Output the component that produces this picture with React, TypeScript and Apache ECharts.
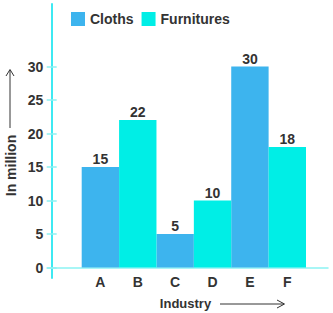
import React, { useEffect, useRef } from "react";
import * as echarts from "echarts";

const categories = ["A", "B", "C", "D", "E", "F"];
const clothsValues = [15, null, 5, null, 30, null];
const furnituresValues = [null, 22, null, 10, null, 18];
const yTicks = { min: 0, max: 30, interval: 5 };
const seriesNames = ["Cloths", "Furnitures"];

const FONT = "'Liberation Sans', Arial, Helvetica, sans-serif";
const TEXT = "#333333";

export default function App() {
  const ref = useRef<HTMLDivElement>(null);
  useEffect(() => {
    if (!ref.current) return;
    const chart = echarts.init(ref.current, null, { renderer: "svg" });
    const labelStyle = { color: TEXT, fontFamily: FONT, fontWeight: "bold" as const, fontSize: 14 };
    chart.setOption({
      animation: false,
      color: ["#3db4ee", "#00eee6"],
      textStyle: { fontFamily: FONT },
      legend: {
        data: seriesNames,
        left: 66,
        top: 7,
        itemWidth: 14,
        itemHeight: 14,
        itemGap: 8,
        icon: "rect",
        textStyle: { ...labelStyle },
      },
      grid: [
        { left: 81.7, right: 27, top: 66.5, bottom: 45.5 },
        { left: 47.3, right: 5, top: 4, bottom: 35 },
      ],
      xAxis: [
        {
          type: "category",
          gridIndex: 0,
          data: categories,
          axisLine: { show: false },
          axisTick: { show: false },
          axisLabel: { ...labelStyle, margin: 7 },
        },
        {
          type: "value",
          gridIndex: 1,
          min: 0,
          max: 1,
          axisLine: { show: true, onZero: true, lineStyle: { color: "#8cf3f3", width: 1.5 } },
          axisTick: { show: false },
          axisLabel: { show: false },
          splitLine: { show: false },
        },
      ],
      yAxis: [
        {
          type: "value",
          gridIndex: 0,
          min: yTicks.min,
          max: yTicks.max,
          interval: yTicks.interval,
          offset: 25,
          axisLine: { show: false },
          axisTick: { show: true, length: 10, lineStyle: { color: "#8ef0f2", width: 1.5 } },
          axisLabel: { ...labelStyle, margin: 13.4 },
          splitLine: { show: false },
        },
        {
          type: "value",
          gridIndex: 1,
          min: -10.5,
          max: 263.5,
          offset: -4,
          axisLine: { show: true, onZero: false, lineStyle: { color: "#3ee9f2", width: 2 } },
          axisTick: { show: false },
          axisLabel: { show: false },
          splitLine: { show: false },
        },
      ],
      series: [
        {
          name: seriesNames[0],
          type: "bar",
          stack: "all",
          xAxisIndex: 0,
          yAxisIndex: 0,
          barCategoryGap: "0%",
          data: clothsValues,
          label: { show: true, position: "top", distance: 1, ...labelStyle },
        },
        {
          name: seriesNames[1],
          type: "bar",
          stack: "all",
          xAxisIndex: 0,
          yAxisIndex: 0,
          barCategoryGap: "0%",
          data: furnituresValues,
          label: { show: true, position: "top", distance: 1, ...labelStyle },
        },
      ],
      graphic: [
        {
          type: "text",
          x: 11,
          y: 165.5,
          rotation: Math.PI / 2,
          style: {
            text: "In million",
            fill: TEXT,
            font: `bold 14px ${FONT}`,
            textAlign: "center",
            textVerticalAlign: "middle",
          },
        },
        {
          type: "text",
          x: 185.5,
          y: 303.5,
          style: {
            text: "Industry",
            fill: TEXT,
            font: `bold 13px ${FONT}`,
            textAlign: "center",
            textVerticalAlign: "middle",
          },
        },
        { type: "line", shape: { x1: 10, y1: 128, x2: 10, y2: 70 }, style: { stroke: TEXT, lineWidth: 1 } },
        { type: "polyline", shape: { points: [[6, 76], [10, 69.5], [14, 76]] }, style: { stroke: TEXT, lineWidth: 1, fill: null } },
        { type: "line", shape: { x1: 220, y1: 304, x2: 284, y2: 304 }, style: { stroke: TEXT, lineWidth: 1 } },
        { type: "polyline", shape: { points: [[277, 300], [284.5, 304], [277, 308]] }, style: { stroke: TEXT, lineWidth: 1, fill: null } },
      ],
    });
    return () => chart.dispose();
  }, []);
  return (
    <div
      ref={ref}
      style={{ position: "fixed", left: 0, top: 0, width: 333, height: 313, background: "#fff" }}
    />
  );
}
